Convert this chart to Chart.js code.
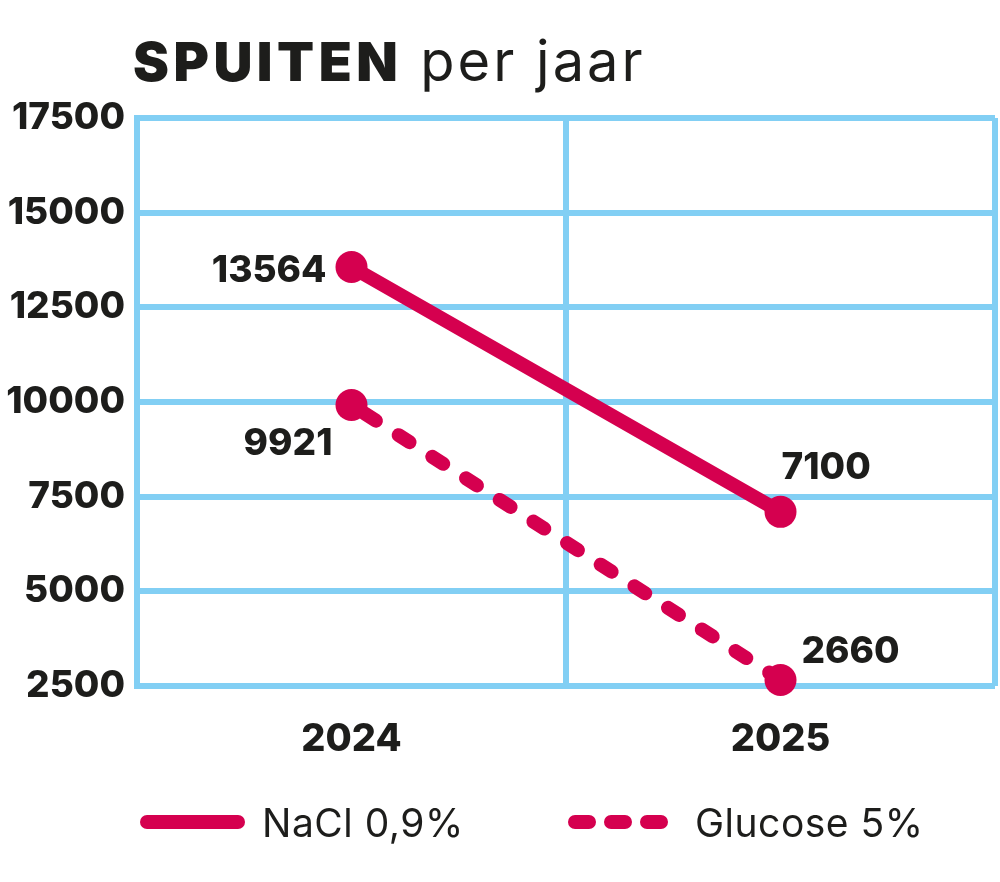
<!DOCTYPE html>
<html>
<head>
<meta charset="utf-8">
<script src="https://cdn.jsdelivr.net/npm/chart.js@4.4.1/dist/chart.umd.min.js"></script>
<style>
  body { margin: 0; background: #fff; }
  #wrap { position: relative; width: 1000px; height: 882px; font-family: Inter, "Open Sans", sans-serif; color: #1d1d1b; }
  #title { position: absolute; left: 133px; top: 33px; line-height: 1; white-space: nowrap; }
  #title b { font-size: 54px; font-weight: 900; letter-spacing: 4.5px; margin-right: 18px; }
  #title span { font-size: 56px; font-weight: 400; letter-spacing: 3px; }
  .leg { position: absolute; top: 800px; height: 44px; display: flex; align-items: center; font-size: 39px; font-weight: 400; letter-spacing: 0.5px; }
</style>
</head>
<body>
<div id="wrap">
  <canvas id="myChart" width="1000" height="882"></canvas>
  <div id="title"><b>SPUITEN</b><span>per jaar</span></div>
  <div class="leg" style="left:140px">
    <svg width="106" height="20" style="margin-right:16px"><line x1="7" y1="10" x2="98" y2="10" stroke="#d5004f" stroke-width="14" stroke-linecap="round"/></svg>NaCl 0,9%
  </div>
  <div class="leg" style="left:568px">
    <svg width="101" height="20" style="margin-right:26px"><line x1="7" y1="10" x2="93" y2="10" stroke="#d5004f" stroke-width="14" stroke-linecap="round" stroke-dasharray="14 22"/></svg>Glucose 5%
  </div>
</div>
<script>
// data
var years = ["2024", "2025"]
var nacl = [13564, 7100]
var glucose = [9921, 2660]
var yTicks = [2500, 5000, 7500, 10000, 12500, 15000, 17500]

var pink = "#d5004f"
var blue = "#82cff4"
var dark = "#1d1d1b"

// label offsets per dataset / point (dx, dy, align)
var labelPos = [
    [[-25, 4, "right"], [1, -44, "left"]],
    [[-19, 39, "right"], [21, -28, "left"]]
]

// plugin voor de waarden bij de punten
var valueLabels = {
    id: "valueLabels",
    afterDatasetsDraw: function(chart) {
        var ctx = chart.ctx
        ctx.save()
        ctx.font = "800 37px Inter"
        ctx.fillStyle = dark
        ctx.textBaseline = "middle"
        chart.data.datasets.forEach(function(ds, i) {
            chart.getDatasetMeta(i).data.forEach(function(pt, j) {
                var p = labelPos[i][j]
                ctx.textAlign = p[2]
                ctx.fillText(String(ds.data[j]), pt.x + p[0], pt.y + p[1])
            })
        })
        ctx.restore()
    }
}

var ctx = document.getElementById("myChart").getContext("2d")

var data = {
    labels: years,
    datasets: [
        {
            label: "NaCl 0,9%",
            data: nacl,
            borderColor: pink,
            backgroundColor: pink,
            borderWidth: 14,
            borderCapStyle: "round",
            pointRadius: 16,
            pointBorderWidth: 0,
            pointBackgroundColor: pink
        },
        {
            label: "Glucose 5%",
            data: glucose,
            borderColor: pink,
            backgroundColor: pink,
            borderWidth: 14,
            borderCapStyle: "round",
            borderDash: [13, 27],
            borderDashOffset: -16,
            pointRadius: 16,
            pointBorderWidth: 0,
            pointBackgroundColor: pink
        }
    ]
}

var config = {
    type: "line",
    data: data,
    options: {
        responsive: false,
        animation: false,
        clip: false,
        layout: { autoPadding: false, padding: { top: 118, right: 5, left: 0, bottom: 106 } },
        plugins: {
            legend: { display: false },
            tooltip: { enabled: false }
        },
        scales: {
            x: {
                offset: true,
                grid: { offset: true, color: blue, lineWidth: 6, drawTicks: false },
                border: { display: false },
                ticks: { color: dark, font: { family: "Inter", size: 38, weight: "800" }, padding: 31 },
                afterFit: function(scale) { scale.height = 90 }
            },
            y: {
                min: 2500,
                max: 17500,
                afterBuildTicks: function(scale) { scale.ticks = yTicks.map(function(v) { return { value: v } }) },
                grid: { color: blue, lineWidth: 6, drawTicks: false },
                border: { color: blue, width: 6 },
                ticks: {
                    color: dark,
                    font: { family: "Inter", size: 37, weight: "800" },
                    padding: 12,
                    callback: function(value) { return String(value) }
                },
                afterFit: function(scale) { scale.width = 137 }
            }
        }
    },
    plugins: [valueLabels]
}

var myChart = new Chart(ctx, config)
</script>
</body>
</html>
